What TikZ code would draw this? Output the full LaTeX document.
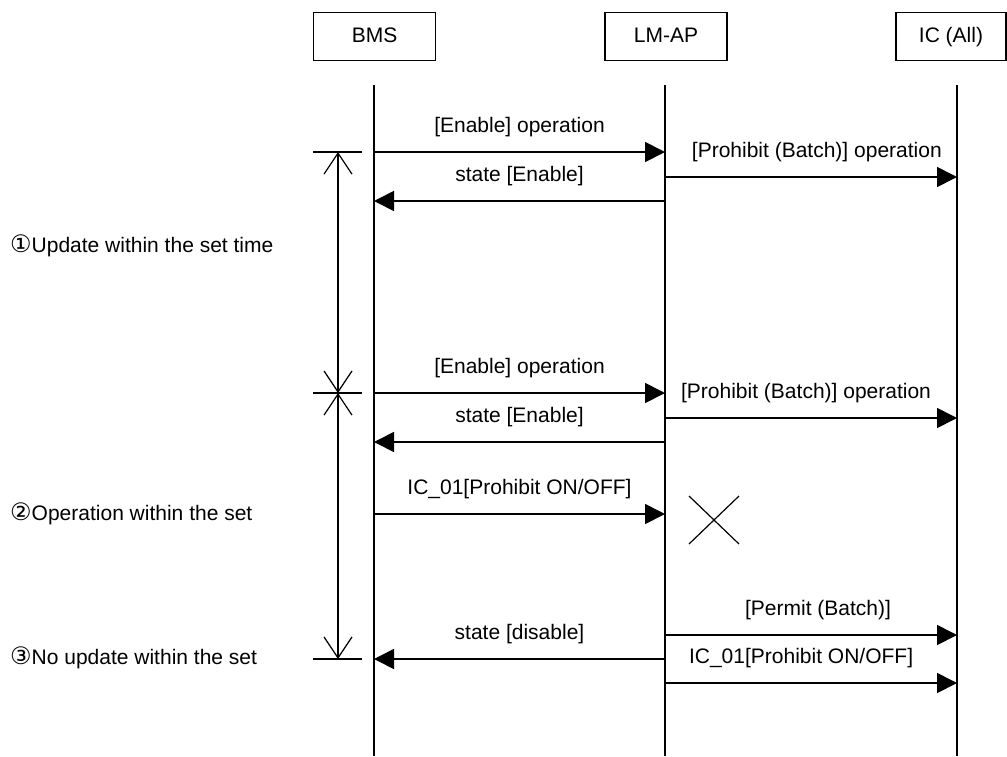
\documentclass[tikz,border=0pt]{standalone}
\usepackage{fontspec}
\setmainfont{Liberation Sans}
\newfontfamily\circfont{DejaVu Sans}
\newcommand{\circnum}[1]{{\circfont\fontsize{24}{25}\selectfont #1}}
\usetikzlibrary{arrows.meta}

\begin{document}
\begin{tikzpicture}[x=1pt, y=-1pt,
  actor/.style={draw, line width=1.3pt, minimum width=122pt,
    minimum height=48pt, inner sep=0pt, text height=15pt, text depth=4pt},
  life/.style={line width=1.4pt},
  msg/.style={-{Triangle[length=20pt, width=20pt]}, line width=1.7pt},
  lbl/.style={yshift=25pt},
  period/.style={{Straight Barb[length=21pt, width=28pt]}-{Straight Barb[length=21pt, width=28pt]},
    line width=1.2pt},
  tickline/.style={line width=1.2pt},
  cross/.style={line width=1.2pt},
  note/.style={anchor=west, inner sep=0pt},
  font=\fontsize{21}{25}\selectfont,
]
\useasboundingbox (0,0) rectangle (1007,756);

\node[actor] (bms) at (374.5,36.5) {BMS};
\node[actor] (lmap) at (666,36.5) {LM-AP};
\node[actor, minimum width=110pt] (ic) at (951,36.5) {IC (All)};

\coordinate (bmsL) at (374,85);
\coordinate (apL) at (665,85);
\coordinate (icL) at (957,85);

\draw[life] (bmsL) -- (bmsL |- 0,756);
\draw[life] (apL) -- (apL |- 0,756);
\draw[life] (icL) -- (icL |- 0,756);

\draw[msg] (bmsL |- 0,152) -- node[lbl] {[Enable] operation} (apL |- 0,152);
\draw[msg] (apL |- 0,177) -- node[lbl, pos=0.52] {[Prohibit (Batch)] operation} (icL |- 0,177);
\draw[msg] (apL |- 0,201) -- node[lbl] {state [Enable]} (bmsL |- 0,201);

\draw[msg] (bmsL |- 0,393) -- node[lbl] {[Enable] operation} (apL |- 0,393);
\draw[msg] (apL |- 0,418) -- node[lbl, pos=0.483] {[Prohibit (Batch)] operation} (icL |- 0,418);
\draw[msg] (apL |- 0,442) -- node[lbl] {state [Enable]} (bmsL |- 0,442);

\draw[msg] (bmsL |- 0,514) -- node[lbl] {IC\_01[Prohibit ON/OFF]} (apL |- 0,514);
\draw[cross] (689,496) -- (739,544) (689,544) -- (739,496);

\draw[msg] (apL |- 0,635) -- node[lbl, pos=0.524] {[Permit (Batch)]} (icL |- 0,635);
\draw[msg] (apL |- 0,659) -- node[lbl] {state [disable]} (bmsL |- 0,659);
\draw[msg] (apL |- 0,683) -- node[lbl, pos=0.466] {IC\_01[Prohibit ON/OFF]} (icL |- 0,683);

\coordinate (t1) at (338,152);
\coordinate (t2) at (338,393);
\coordinate (t3) at (338,659);
\draw[period] (t1) -- (t2);
\draw[period] (t2) -- (t3);
\foreach \t in {t1,t2,t3}
  \draw[tickline] ([xshift=-25pt]\t) -- ([xshift=24pt]\t);

\node[note] (upd) at (10,246) {\circnum{①}Update within the set time};
\node[note] (opr) at (10,514) {\circnum{②}Operation within the set};
\node[note] (noupd) at (10,658) {\circnum{③}No update within the set};
\end{tikzpicture}
\end{document}
